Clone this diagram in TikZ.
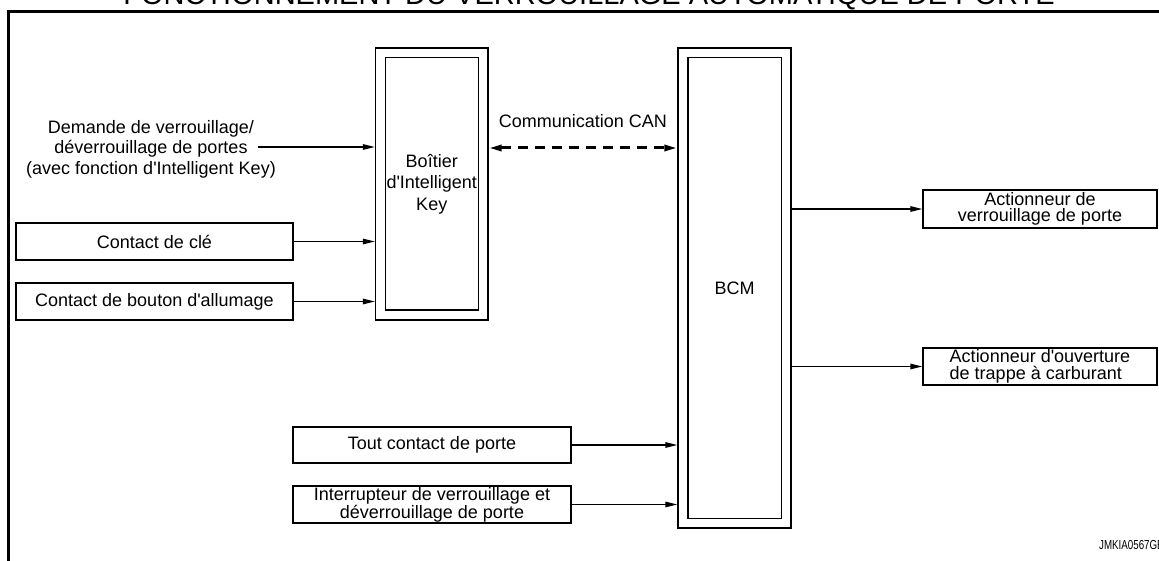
\documentclass[tikz,border=0pt]{standalone}
\usepackage{fontspec}
\setmainfont{Liberation Sans}[Ligatures=TeXOff]
\usetikzlibrary{arrows.meta}
\begin{document}
\begin{tikzpicture}[x=1pt,y=-1pt,
  box/.style={draw, line width=1.3pt, inner sep=0pt, font=\fontsize{18pt}{16.5pt}\selectfont, align=center},
  dbox/.style={draw, line width=1.3pt, inner sep=0pt, font=\fontsize{18pt}{21.5pt}\selectfont, align=center},
  conn/.style={line width=1.3pt, -{Triangle[length=12pt,width=5.5pt]}},
  lbl/.style={inner sep=0pt, font=\fontsize{18pt}{20.5pt}\selectfont, align=center}]
\useasboundingbox (0,0) rectangle (1159,561);
% frame
\draw[line width=3.2pt] (8.5,11.5) rectangle (1185,590);
\node[inner sep=0pt, anchor=base, font=\fontsize{29pt}{29pt}\selectfont] (title) at (589,4.5) {FONCTIONNEMENT DU VERROUILLAGE AUTOMATIQUE DE PORTE};
% boxes
\node[box, minimum width=277pt, minimum height=37pt] (ck) at (154.5,241.5) {Contact de clé};
\node[box, minimum width=277pt, minimum height=37pt] (cb) at (154.5,301.5) {Contact de bouton d'allumage};
\node[dbox, minimum width=112.5pt, minimum height=272pt] (ik) at (431.75,184) {Boîtier\\d'Intelligent\\Key};
\node[dbox, minimum width=113pt, minimum height=480pt] (bcm) at (734.5,288) {BCM};
\node[box, minimum width=234pt, minimum height=38pt] (a1) at (1040,209) {Actionneur de\\verrouillage de porte};
\node[box, minimum width=234pt, minimum height=37pt, align=left] (a2) at (1040,366.5) {Actionneur d'ouverture\\de trappe à carburant};
\node[box, minimum width=278pt, minimum height=36pt] (tc) at (432,445) {Tout contact de porte};
\node[box, minimum width=278pt, minimum height=37pt] (ir) at (432,504.5) {Interrupteur de verrouillage et\\déverrouillage de porte};
\foreach \n in {ik,bcm}
  \draw[line width=1.3pt] ([shift={(10.5pt,10.5pt)}]\n.south west) rectangle ([shift={(-10.5pt,-10.5pt)}]\n.north east);
% labels
\node[lbl] (dem) at (151,149) {Demande de verrouillage/\\déverrouillage de portes\\(avec fonction d'Intelligent Key)};
\node[lbl, anchor=base] (canlbl) at (583,128) {Communication CAN};
% connectors
\coordinate (dm) at (258,147);
\draw[conn] (dm) -- (dm -| ik.west);
\draw[conn] (ck.east) -- (ck.east -| ik.west);
\draw[conn] (cb.east) -- (cb.east -| ik.west);
\coordinate (canL) at ([yshift=36pt]ik.east);
\draw[line width=3pt, dash pattern=on 10pt off 7pt, {Triangle[length=13pt,width=6pt]}-{Triangle[length=13pt,width=6pt]}] (canL) -- (canL -| bcm.west);
\draw[conn] (tc.east) -- (tc.east -| bcm.west);
\draw[conn] (ir.east) -- (ir.east -| bcm.west);
\draw[conn] (bcm.east |- a1.west) -- (a1.west);
\draw[conn] (bcm.east |- a2.west) -- (a2.west);
\node[inner sep=0pt, anchor=base west] (code) at (1099,549) {\scalebox{0.75}[1]{\fontsize{13pt}{13pt}\selectfont JMKIA0567GB}};
\end{tikzpicture}
\end{document}
